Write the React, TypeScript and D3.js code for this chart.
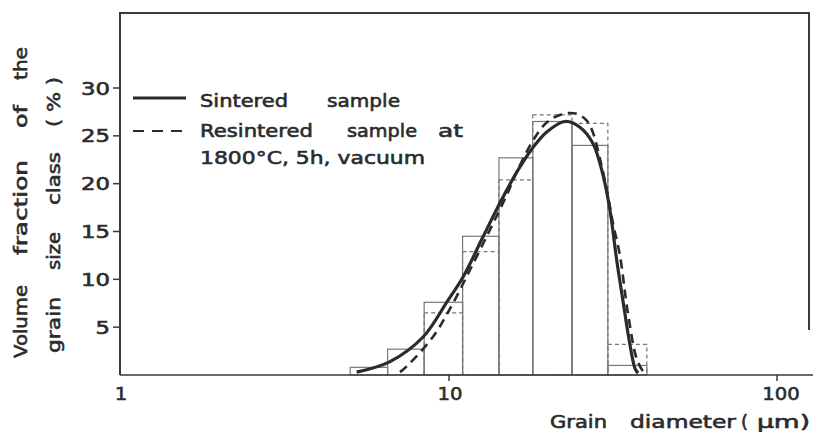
import React from 'react';
import * as d3 from 'd3';

// histogram classes (grain diameter, µm)
const binEdges = [5.0, 6.5, 8.4, 11.0, 14.2, 18.0, 23.7, 30.5, 40.1];
const sinteredBars = [0.8, 2.7, 7.6, 14.5, 22.7, 26.5, 24.0, 1.0];
const resinteredBars = [0, 0, 6.5, 12.9, 20.4, 27.2, 26.3, 3.2];

// fitted distribution curves [diameter, %]
const sinteredCurve: [number, number][] = [
  [5.23, 0.3], [6.61, 1.4], [8.35, 4.0], [9.84, 7.6], [11.06, 10.3], [12.72, 14.5],
  [14.31, 18.0], [16.09, 21.2], [17.87, 23.6], [19.86, 25.4], [22.58, 26.5], [25.07, 25.9],
  [27.48, 24.2], [29.48, 20.9], [30.97, 17.2], [32.46, 12.0], [33.9, 7.8], [35.4, 3.7],
  [36.9, 0.7], [37.7, 0.2],
];
const resinteredCurve: [number, number][] = [
  [7.09, 0.3], [7.43, 0.9], [8.94, 4.0], [10.28, 7.5], [11.59, 11.0], [13.34, 15.2],
  [14.99, 18.8], [16.08, 21.2], [18.03, 24.5], [19.86, 26.4], [22.27, 27.3], [24.5, 27.3],
  [26.3, 26.6], [27.5, 25.3], [28.9, 22.5], [30.3, 19.3], [31.6, 15.9], [33.2, 12.5],
  [35.1, 6.5], [37.4, 1.6], [39.0, 0.4],
];

const yTicks = [5, 10, 15, 20, 25, 30];
const xTicks = [1, 10, 100];

const ink = '#2b2b2b';
const font = '"DejaVu Sans", sans-serif';

export default function App() {
  const x = d3.scaleLog().domain([1, 100]).range([121, 777]);
  const y = d3.scaleLinear().domain([0, 30]).range([375, 88]);

  const line = d3
    .line<[number, number]>()
    .x((d) => x(d[0]))
    .y((d) => y(d[1]))
    .curve(d3.curveCatmullRom.alpha(0.5));

  const bars = (vals: number[]) =>
    vals.map((v, i) => ({ x0: x(binEdges[i]), x1: x(binEdges[i + 1]), v }));

  // text with a slight stroke so it reads as heavy as the scan
  const T = (props: any) => (
    <text fontSize={18} lengthAdjust="spacingAndGlyphs" stroke={ink} strokeWidth={0.6} {...props} />
  );

  return (
    <svg
      width={813}
      height={432}
      style={{ position: 'absolute', left: 0, top: 0, background: '#fff' }}
      fontFamily={font}
      fill={ink}
    >
      {/* histogram bars */}
      {bars(sinteredBars).map((b, i) => (
        <rect key={'s' + i} x={b.x0} y={y(b.v)} width={b.x1 - b.x0} height={y(0) - y(b.v)}
          fill="none" stroke="#777" strokeWidth={1.2} />
      ))}
      {bars(resinteredBars).filter((b) => b.v > 0).map((b, i) => (
        <rect key={'r' + i} x={b.x0} y={y(b.v)} width={b.x1 - b.x0} height={y(0) - y(b.v)}
          fill="none" stroke="#777" strokeWidth={1.2} strokeDasharray="4,3" />
      ))}

      {/* curves */}
      <path d={line(sinteredCurve) || ''} fill="none" stroke={ink} strokeWidth={3.2} />
      <path d={line(resinteredCurve) || ''} fill="none" stroke={ink} strokeWidth={2.6}
        strokeDasharray="9,6" />

      {/* frame */}
      <path d="M120,375 V13 H809 V330" fill="none" stroke="#3a3a3a" strokeWidth={2} />
      <line x1={120} x2={813} y1={375} y2={375} stroke="#3a3a3a" strokeWidth={1.6} />

      {/* y axis */}
      {yTicks.map((t) => (
        <g key={t}>
          <line x1={113} x2={120} y1={y(t)} y2={y(t)} stroke="#3a3a3a" strokeWidth={1.5} />
          <T x={110} y={y(t) + 6.5} textAnchor="end" textLength={String(t).length * 14.5}>{t}</T>
        </g>
      ))}

      {/* x axis */}
      {xTicks.map((t) => (
        <g key={t}>
          {t > 1 && <line x1={x(t)} x2={x(t)} y1={375} y2={381} stroke="#3a3a3a" strokeWidth={1.5} />}
          <T x={x(t) + (t === 100 ? 4 : t === 10 ? 1 : 0)} y={400} textAnchor="middle"
            textLength={String(t).length * 12.5}>{t}</T>
        </g>
      ))}
      <T x={550} y={428} textLength={57}>Grain</T>
      <T x={630} y={428} textLength={106}>diameter</T>
      <T x={741} y={428}>(</T>
      <T x={757} y={428} textLength={53}>μm)</T>

      {/* y label */}
      <g transform="translate(27,0) rotate(-90)">
        <T x={-358} y={0} textLength={73}>Volume</T>
        <T x={-255} y={0} textLength={95}>fraction</T>
        <T x={-128} y={0} textLength={23}>of</T>
        <T x={-80} y={0} textLength={33}>the</T>
      </g>
      <g transform="translate(60,0) rotate(-90)">
        <T x={-353} y={0} textLength={56}>grain</T>
        <T x={-270} y={0} textLength={38}>size</T>
        <T x={-205} y={0} textLength={53}>class</T>
        <T x={-127} y={0} textLength={50}>( % )</T>
      </g>

      {/* legend */}
      <line x1={133} x2={186} y1={98} y2={98} stroke={ink} strokeWidth={3.2} />
      <line x1={133} x2={189} y1={131} y2={131} stroke={ink} strokeWidth={1.8} strokeDasharray="11,8" />
      <T x={200} y={107} textLength={88}>Sintered</T>
      <T x={327} y={107} textLength={73}>sample</T>
      <T x={200} y={137} textLength={113}>Resintered</T>
      <T x={347} y={137} textLength={70}>sample</T>
      <T x={438} y={137} textLength={25}>at</T>
      <T x={200} y={164} textLength={225}>1800°C, 5h, vacuum</T>
    </svg>
  );
}
